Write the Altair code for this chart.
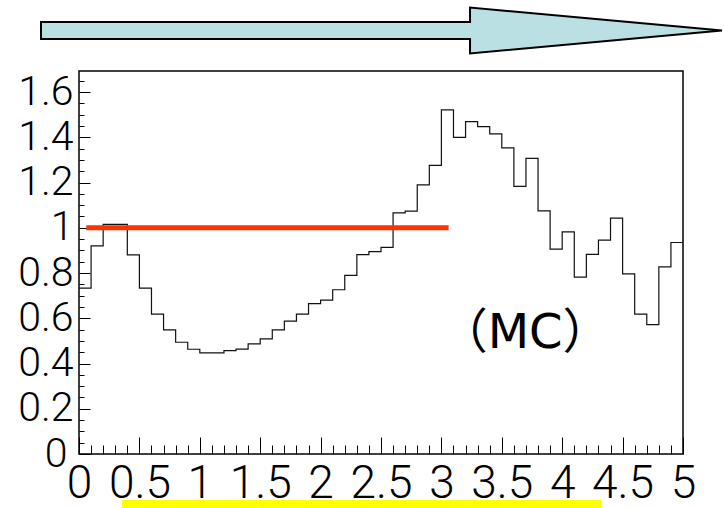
import altair as alt
import pandas as pd

# ---- data ----
bin_edges = [round(i * 0.1, 1) for i in range(51)]
ratio = [0.733, 0.920, 1.015, 1.015, 0.880, 0.733, 0.618, 0.549, 0.494, 0.463,
         0.447, 0.447, 0.457, 0.464, 0.487, 0.509, 0.549, 0.587, 0.618, 0.665,
         0.680, 0.726, 0.790, 0.881, 0.895, 0.913, 1.066, 1.074, 1.190, 1.276,
         1.521, 1.400, 1.469, 1.447, 1.415, 1.353, 1.183, 1.307, 1.075, 0.906,
         0.982, 0.782, 0.882, 0.945, 1.043, 0.796, 0.618, 0.572, 0.827, 0.935]
x_label_values = [0, 0.5, 1, 1.5, 2, 2.5, 3, 3.5, 4, 4.5, 5]
x_tick_values = bin_edges
y_label_values = [0, 0.2, 0.4, 0.6, 0.8, 1, 1.2, 1.4, 1.6]
y_tick_values = [round(i * 0.05, 2) for i in range(34)]
red_x0 = [0.06]
red_x1 = [3.06]
red_y = [1.0]
yellow_x0 = [0.356]
yellow_x1 = [4.326]
yellow_y = [-0.221]
mc_x = [3.693]
mc_y = [0.469]
mc_text = ["（MC）"]

hist_df = pd.DataFrame({"x": bin_edges, "y": ratio + [ratio[-1]]})
red_df = pd.DataFrame({"x0": red_x0, "x1": red_x1, "y": red_y})
yellow_df = pd.DataFrame({"x0": yellow_x0, "x1": yellow_x1, "y": yellow_y})
mc_df = pd.DataFrame({"x": mc_x, "y": mc_y, "t": mc_text})

W, H = 604, 383
LABEL_FONT = "Roboto, Liberation Sans Narrow, sans-serif"

x_scale = alt.Scale(domain=[0, 5], nice=False, zero=False)
y_scale = alt.Scale(domain=[0, 1.693], nice=False, zero=False)

x_label_axis = alt.Axis(orient="bottom", values=x_label_values, format="~g", ticks=False,
                        tickSize=0, domain=False, grid=False, labelPadding=7,
                        labelFontSize=46, labelFont=LABEL_FONT, labelFontWeight=300,
                        labelColor="black",
                        labelFlush=False, labelOverlap=False, title=None)
y_label_axis = alt.Axis(orient="left", values=y_label_values, format="~g", ticks=False,
                        tickSize=0, domain=False, grid=False,
                        labelPadding={"condition": {"test": "datum.value == 0", "value": 12},
                                      "value": 6},
                        labelFontSize=41, labelFont=LABEL_FONT, labelFontWeight=300,
                        labelColor="black",
                        labelOverlap=False, title=None)
x_tick_axis = alt.Axis(orient="top", offset=-H, values=x_tick_values, labels=False,
                       domain=False, grid=False, tickColor="black", tickWidth=1,
                       tickSize={"condition": {"test": "abs(datum.value*2 - round(datum.value*2)) < 0.001",
                                               "value": 17}, "value": 9},
                       title=None)
y_tick_axis = alt.Axis(orient="right", offset=-W, values=y_tick_values, labels=False,
                       domain=False, grid=False, tickColor="black", tickWidth=1,
                       tickSize={"condition": {"test": "abs(datum.value*5 - round(datum.value*5)) < 0.001",
                                               "value": 11}, "value": 5},
                       title=None)

hist = alt.Chart(hist_df).mark_line(interpolate="step-after", color="#111111", strokeWidth=1.2).encode(
    x=alt.X("x:Q", scale=x_scale, axis=x_label_axis),
    y=alt.Y("y:Q", scale=y_scale, axis=y_label_axis),
)

red = alt.Chart(red_df).mark_rule(color="#FF3300", strokeWidth=5).encode(
    x=alt.X("x0:Q", scale=x_scale, axis=x_tick_axis),
    x2="x1:Q",
    y=alt.Y("y:Q", scale=y_scale, axis=y_tick_axis),
)

yellow = alt.Chart(yellow_df).mark_rule(color="#FFFF00", strokeWidth=8).encode(
    x=alt.X("x0:Q", scale=x_scale, axis=None),
    x2="x1:Q",
    y=alt.Y("y:Q", scale=y_scale, axis=None),
)

mc = alt.Chart(mc_df).mark_text(font="DejaVu Sans, Noto Sans CJK JP", fontSize=48, color="black",
                                 align="center", baseline="alphabetic").encode(
    x=alt.X("x:Q", scale=x_scale, axis=None),
    y=alt.Y("y:Q", scale=y_scale, axis=None),
    text="t:N",
)

ARROW = "M -1 -0.025 L 0.26 -0.025 L 0.26 -0.0675 L 1 0 L 0.26 0.0675 L 0.26 0.025 L -1 0.025 Z"
arrow = alt.Chart(pd.DataFrame({"a": [0]})).mark_point(
    shape=ARROW, size=681 * 681, filled=True, fill="#BAE0E3", stroke="black",
    strokeWidth=2, opacity=1, fillOpacity=1, strokeOpacity=1
).encode(x=alt.value(302.5), y=alt.value(-40.5))

chart = alt.layer(arrow, hist, red, yellow, mc).resolve_axis(
    x="independent", y="independent"
).properties(
    width=W, height=H, autosize="none",
    padding={"left": 79, "top": 71, "right": 41, "bottom": 54},
    background="white",
).configure_view(stroke="black", strokeWidth=1.5)

chart.save("out.html", embed_options={"renderer": "svg", "actions": False})
